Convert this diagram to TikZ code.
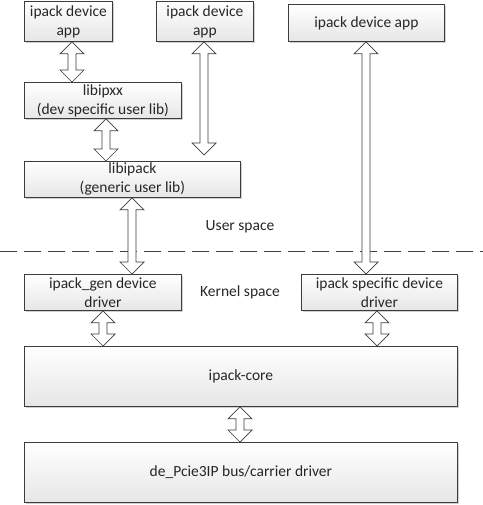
\documentclass[tikz,border=0pt]{standalone}
\usepackage{fontspec}
\setmainfont{Carlito}
\usetikzlibrary{calc,shadows}
\definecolor{boxline}{HTML}{3C3C3C}
\definecolor{boxbot}{HTML}{E6E6E6}
\definecolor{txt}{HTML}{262626}
\tikzset{
  box/.style={draw=boxline, line width=0.8bp, top color=white, bottom color=boxbot,
    drop shadow={shadow xshift=1.5bp, shadow yshift=-1.5bp, fill=black!18, opacity=1},
    anchor=north west, inner sep=0pt, align=center, text=txt,
    font=\fontsize{15.5bp}{19bp}\selectfont},
  barrow/.style={draw=boxline, line width=0.7bp, fill=white, line join=miter},
  divider/.style={draw=black!75, line width=1bp, dash pattern=on 17bp off 7bp},
  lbl/.style={text=txt, font=\fontsize{15.5bp}{19bp}\selectfont, inner sep=0pt}
}
% #1 x (dimension), #2 upper node, #3 lower node, #4 gap above lower node
\newcommand\dblarrow[4]{%
  \draw[barrow] let \p1=(#2.south), \p2=(#3.north) in
    (#1,\y1) -- (#1+12bp,\y1-12bp) -- (#1+4bp,\y1-12bp) -- (#1+4bp,\y2+#4+12bp)
    -- (#1+12bp,\y2+#4+12bp) -- (#1,\y2+#4) -- (#1-12bp,\y2+#4+12bp)
    -- (#1-4bp,\y2+#4+12bp) -- (#1-4bp,\y1-12bp) -- (#1-12bp,\y1-12bp) -- cycle;}
\begin{document}
\begin{tikzpicture}[x=1bp,y=-1bp]
\useasboundingbox (0,0) rectangle (483,505);
% boxes
\node[box, minimum width=88bp, minimum height=40bp] (app1) at (24,1) {ipack device\\app};
\node[box, minimum width=97bp, minimum height=40bp] (app2) at (156,1) {ipack device\\app};
\node[box, minimum width=156bp, minimum height=37bp] (app3) at (288,4) {ipack device app};
\node[box, minimum width=157bp, minimum height=36bp] (lib1) at (24,82) {libipxx\\(dev specific user lib)};
\node[box, minimum width=216bp, minimum height=36bp] (lib2) at (24,161) {libipack\\(generic user lib)};
\node[box, minimum width=157bp, minimum height=36bp] (gen) at (24,274) {ipack\_gen device\\driver};
\node[box, minimum width=156bp, minimum height=36bp] (spec) at (301,274) {ipack specific device\\driver};
\node[box, minimum width=433bp, minimum height=60bp] (core) at (24,346) {ipack-core};
\node[box, minimum width=433bp, minimum height=60bp] (bus) at (24,442) {de\_Pcie3IP bus/carrier driver};
% divider
\coordinate (dl) at (0,251);
\coordinate (dr) at (483,251);
\draw[divider] (dl) -- (dr);
\node[lbl] (user) at (240,227) {User space};
\node[lbl] (kern) at (240,292) {Kernel space};
% arrows
\dblarrow{72bp}{app1}{lib1}{0bp}
\dblarrow{106bp}{lib1}{lib2}{0bp}
\dblarrow{204bp}{app2}{lib2}{6bp}
\dblarrow{366bp}{app3}{spec}{0bp}
\dblarrow{132bp}{lib2}{gen}{0bp}
\dblarrow{103bp}{gen}{core}{0bp}
\dblarrow{377bp}{spec}{core}{0bp}
\dblarrow{240bp}{core}{bus}{0bp}
\end{tikzpicture}
\end{document}
